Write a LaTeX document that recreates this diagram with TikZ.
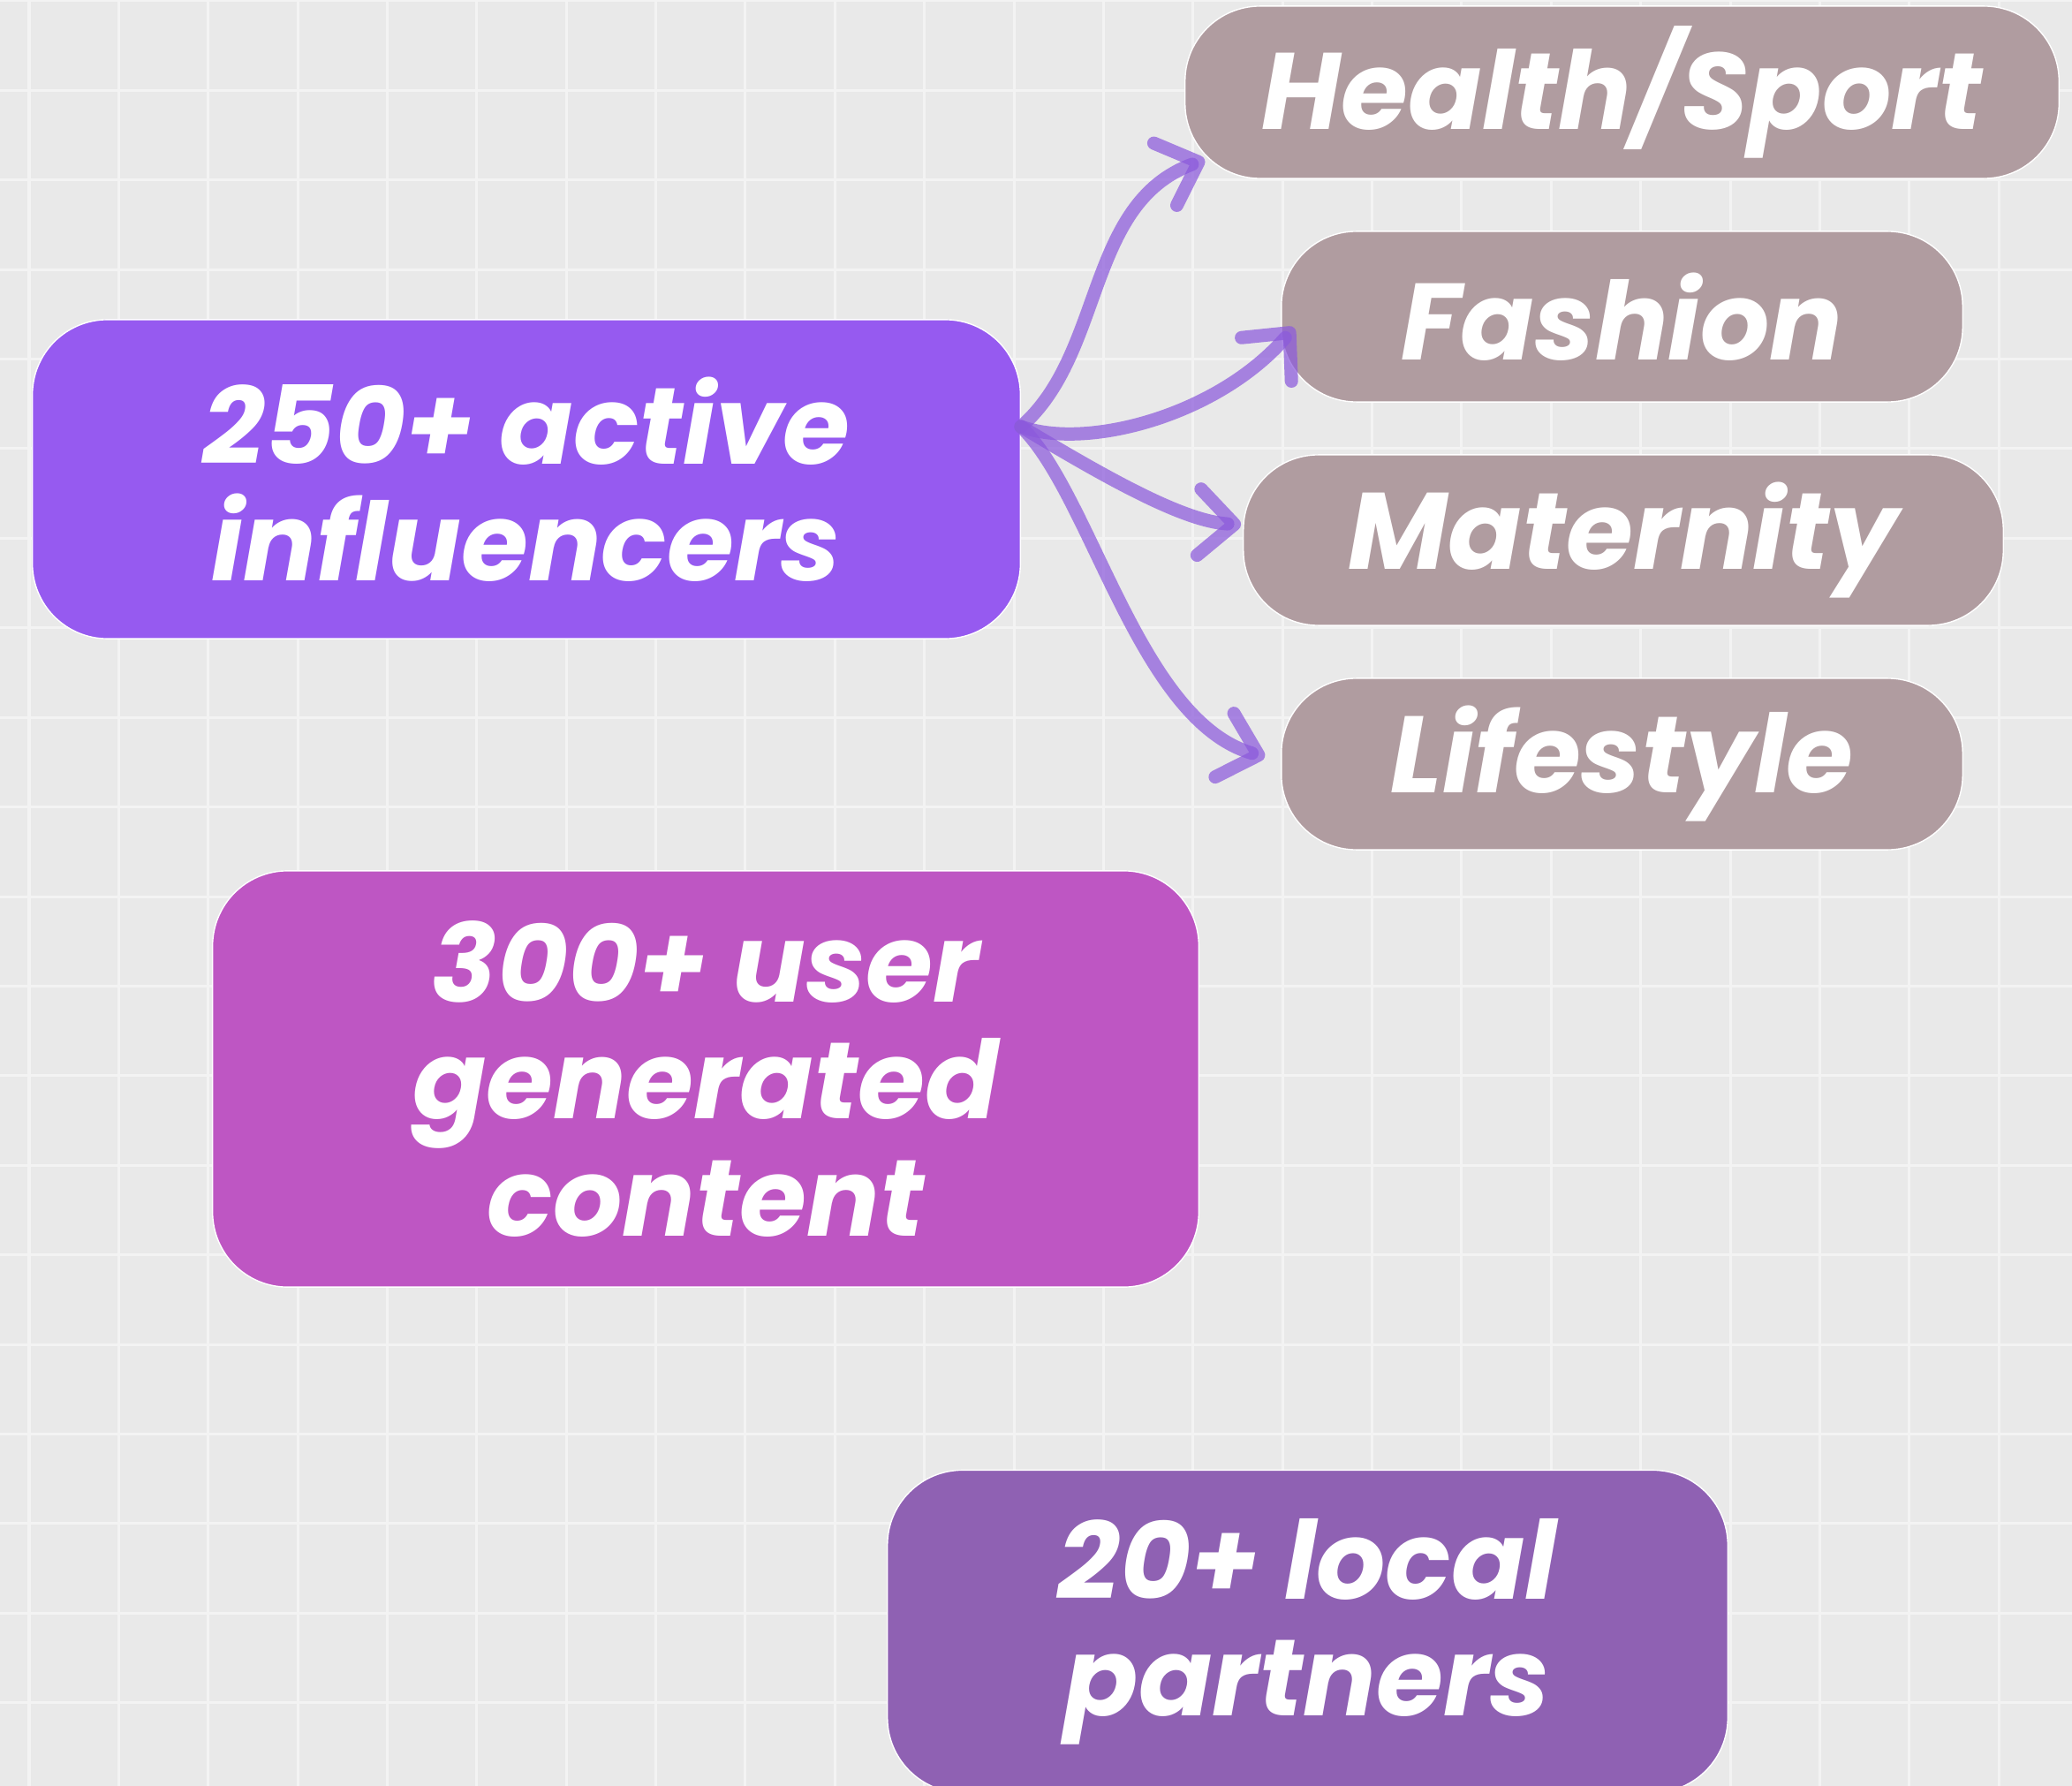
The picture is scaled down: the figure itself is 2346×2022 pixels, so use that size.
\documentclass[tikz,border=0pt]{standalone}
\usepackage{fontspec}
\setmainfont{Poppins}
\usetikzlibrary{arrows.meta,calc}

\definecolor{bgcol}{HTML}{E9E9E9}
\definecolor{gridcol}{HTML}{F3F3F3}
\definecolor{inflcol}{HTML}{965AF0}
\definecolor{tagcol}{HTML}{B09CA0}
\definecolor{ugccol}{HTML}{BE56C3}
\definecolor{partcol}{HTML}{8F61B3}
\definecolor{arrowcol}{RGB}{140,90,220}

\tikzset{
	card/.style={draw=white, line width=0.4pt, rounded corners=0.85cm, inner sep=0pt,
		align=center, text=white, font=\fontsize{35}{37.6}\selectfont\bfseries\itshape},
	link/.style={draw=arrowcol, draw opacity=0.72, line width=0.15cm, line cap=round,
		-{Straight Barb[length=0.4cm,width=0.75cm,line cap=round,round]}}
}

\begin{document}
\begin{tikzpicture}[x=0.01cm, y=-0.01cm]
	\useasboundingbox (0,0) rectangle (2346,2022);
	\clip (0,0) rectangle (2346,2022);
	\fill [bgcol] (0,0) rectangle (2346,2022);

	%grid
	\foreach \i in {0,...,22}
		\draw [gridcol, line width=0.03cm] (33+\i*101.37,0) -- ++(0,2022);
	\foreach \j in {0,...,20}
		\draw [gridcol, line width=0.03cm] (0,1+\j*101.4) -- ++(2346,0);

	%nodes
	\node [card, fill=inflcol, minimum width=11.18cm, minimum height=3.61cm] (infl) at (596,542.5) {250+ active\\influencers};
	\node [card, fill=tagcol, minimum width=9.89cm, minimum height=1.95cm] (health) at (1836.5,104.5) {Health/Sport};
	\node [card, fill=tagcol, minimum width=7.71cm, minimum height=1.93cm] (fashion) at (1836.5,358.5) {Fashion};
	\node [card, fill=tagcol, minimum width=8.60cm, minimum height=1.93cm] (maternity) at (1838,611.5) {Maternity};
	\node [card, fill=tagcol, minimum width=7.71cm, minimum height=1.94cm] (lifestyle) at (1836.5,865) {Lifestyle};
	\node [card, fill=ugccol, minimum width=11.16cm, minimum height=4.71cm] (ugc) at (799,1221.5) {300+ user\\generated\\content};
	\node [card, fill=partcol, minimum width=9.51cm, minimum height=3.65cm] (partners) at (1480.5,1847) {20+ local\\partners};

	%paths
	\coordinate (hub) at ($(infl.east)+(0,-59.5)$);
	\draw [link] (hub) .. controls +(95,-83) and +(-135,50) .. ($(health.south west)+(23,-22)$);
	\draw [link] (hub) .. controls +(75,27) and +(-86,99) .. ($(fashion.west)+(15,12.5)$);
	\draw [link] (hub) .. controls +(95,57) and +(-66,-4) .. ($(maternity.west)+(-2,-17.5)$);
	\draw [link] (hub) .. controls +(80,78) and +(-143,-42) .. ($(lifestyle.west)+(-18,-8)$);

\end{tikzpicture}
\end{document}
